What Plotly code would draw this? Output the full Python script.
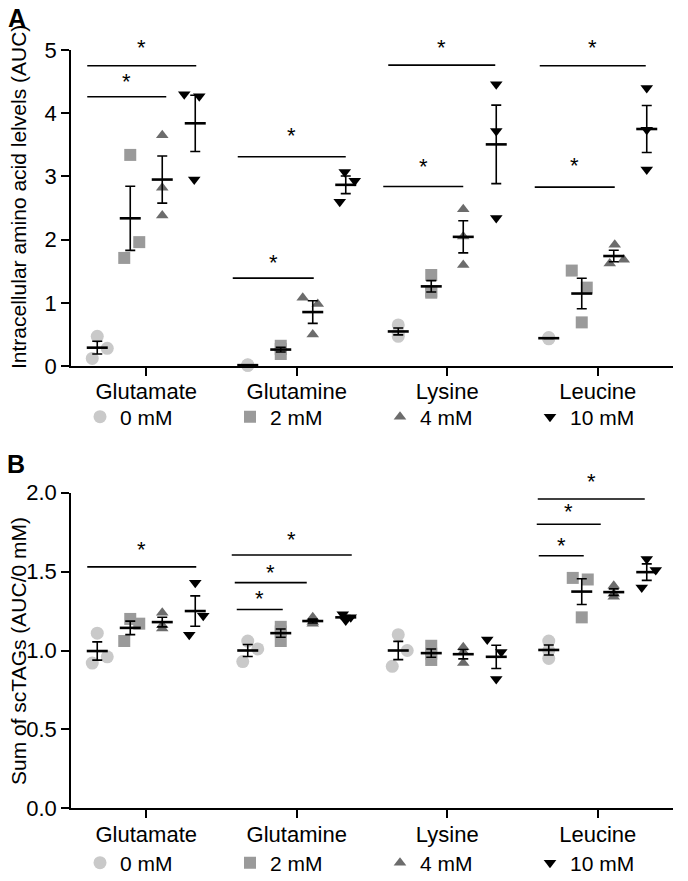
import numpy as np
import plotly.graph_objects as go

# ---------------- data ----------------
CATEGORIES = ["Glutamate", "Glutamine", "Lysine", "Leucine"]
DOSES = ["0 mM", "2 mM", "4 mM", "10 mM"]

# Panel A: intracellular amino acid levels (AUC); one list of 3 replicates per category
A_0MM = [[0.47, 0.12, 0.28], [0.02, 0.01, 0.01], [0.65, 0.47, 0.52], [0.45, 0.44, 0.43]]
A_2MM = [[3.34, 1.96, 1.71], [0.32, 0.27, 0.19], [1.44, 1.18, 1.16], [1.51, 1.24, 0.69]]
A_4MM = [[3.65, 2.82, 2.38], [1.08, 0.98, 0.50], [2.48, 2.05, 1.60], [1.92, 1.62, 1.68]]
A_10MM = [[4.30, 4.27, 2.95], [3.07, 2.93, 2.60], [4.46, 3.72, 2.34], [4.40, 3.74, 3.11]]

# Panel B: sum of scTAGs (AUC / 0 mM)
B_0MM = [[1.11, 0.92, 0.96], [1.06, 1.01, 0.93], [1.10, 1.00, 0.90], [1.06, 1.00, 0.95]]
B_2MM = [[1.20, 1.17, 1.06], [1.15, 1.12, 1.06], [1.03, 0.98, 0.94], [1.46, 1.45, 1.21]]
B_4MM = [[1.24, 1.16, 1.14], [1.21, 1.17, 1.18], [1.02, 0.99, 0.92], [1.41, 1.36, 1.34]]
B_10MM = [[1.43, 1.22, 1.10], [1.23, 1.21, 1.19], [1.07, 0.99, 0.82], [1.58, 1.51, 1.40]]

A_TICKS = [0, 1, 2, 3, 4, 5]
B_TICKS = [0.0, 0.5, 1.0, 1.5, 2.0]

# significance bars: (category, from dose, to dose, bar level)
SIG_A = [(0, 0, 3, 4.75), (0, 0, 2, 4.26), (1, 0, 3, 3.31), (1, 0, 2, 1.39),
         (2, 0, 3, 4.76), (2, 0, 2, 2.84), (3, 0, 3, 4.75), (3, 0, 2, 2.83)]
SIG_B = [(0, 0, 3, 1.53), (1, 0, 3, 1.605), (1, 0, 2, 1.43), (1, 0, 1, 1.26),
         (3, 0, 3, 1.96), (3, 0, 2, 1.80), (3, 0, 1, 1.60)]

# ---------------- style ----------------
W, H = 688, 881
ML, MR = 71, 15
PLOT_W = W - ML - MR
PX_PER_UNIT = PLOT_W / 4.0
GROUP_PX = [-49, -16, 16, 49]
SYMBOLS = ["circle", "square", "triangle-up", "triangle-down"]
COLORS = ["#c9c9c9", "#9a9a9a", "#6c6c6c", "#000000"]
SIZES = [13, 12, 11, 11]
FONT = "Liberation Sans, Arial, Helvetica, sans-serif"
FS = 21
FS_TICK = 22

# per-point horizontal spread (px) to avoid overlap, like the original scatter
JIT_A = {
    0: [[0, -5, 10], [0, 9, -6], [0, 0, 0], [-11, 4, -1]],
    1: [[0, 0, 0], [0, 0, 0], [-10, 5, 0], [-1, 9, -6]],
    2: [[0, 0, 0], [0, 0, 0], [0, 0, 0], [0, 0, 0]],
    3: [[0, 0, 0], [-10, 5, 0], [1, -4, 10], [0, 0, 0]],
}
JIT_B = {
    0: [[0, -5, 10], [0, 9, -6], [0, 0, 0], [0, 8, -6]],
    1: [[0, 10, -5], [0, 0, 0], [0, 0, 0], [-3, 5, 0]],
    2: [[0, 9, -6], [0, 0, 0], [0, 0, 0], [-9, 5, 0]],
    3: [[0, 0, 0], [-9, 6, 0], [0, 0, 0], [0, 9, -5]],
}
# sig bar style tweaks: (left extension px, right adjust px, star gap px)
SIG_A_STYLE = [(-10, 1, 20), (-10, 4, 17), (-10, 0, 23), (-15, 1, 18),
               (-10, -1, 20), (-15, 0, 22), (-9, -1, 20), (-14, 1, 24)]
SIG_B_STYLE = [(-10, 1, 19), (-16, 6, 18), (-13, -6, 12), (-11, 2, 13),
               (-11, -2, 20), (-12, -13, 15), (-10, 2, 12)]

# panel vertical placement (px from top)
A_TOP, A_BOT = 50, 366
B_TOP, B_BOT = 492.7, 808.3


def py(p):
    return 1 - p / H


def px(p):
    return (p - ML) / PLOT_W


fig = go.Figure()


def add_panel(series, jit, xa, ya, legend_name):
    for g, vals in enumerate(series):
        xs, ys = [], []
        for c, reps in enumerate(vals):
            for k, v in enumerate(reps):
                xs.append(c + (GROUP_PX[g] + jit[c][g][k]) / PX_PER_UNIT)
                ys.append(v)
        fig.add_trace(go.Scatter(
            x=xs, y=ys, mode="markers", name=DOSES[g], xaxis=xa, yaxis=ya,
            legend=legend_name, cliponaxis=False,
            legendwidth=70 if g == 3 else None,
            marker=dict(symbol=SYMBOLS[g], color=COLORS[g], size=SIZES[g],
                        line=dict(width=0)),
            hoverinfo="skip"))
    for g, vals in enumerate(series):
        arr = np.array(vals, dtype=float)
        means = arr.mean(axis=1)
        sems = arr.std(axis=1, ddof=1) / np.sqrt(arr.shape[1])
        mx = [c + GROUP_PX[g] / PX_PER_UNIT for c in range(len(vals))]
        fig.add_trace(go.Scatter(
            x=mx, y=means, mode="markers", xaxis=xa, yaxis=ya, showlegend=False,
            cliponaxis=False,
            marker=dict(symbol="line-ew", size=15, color="black",
                        line=dict(width=2.6, color="black")),
            error_y=dict(type="data", array=sems, visible=True, color="black",
                         thickness=1.6, width=5),
            hoverinfo="skip"))


add_panel([A_0MM, A_2MM, A_4MM, A_10MM], JIT_A, "x", "y", "legend")
add_panel([B_0MM, B_2MM, B_4MM, B_10MM], JIT_B, "x2", "y2", "legend2")

shapes, annots = [], []


def add_sigs(sigs, styles, xref, yref):
    for (c, g0, g1, lvl), (l_px, r_px, gap) in zip(sigs, styles):
        x0 = c + (GROUP_PX[g0] + l_px) / PX_PER_UNIT
        x1 = c + (GROUP_PX[g1] + r_px) / PX_PER_UNIT
        shapes.append(dict(type="line", xref=xref, yref=yref, x0=x0, x1=x1,
                           y0=lvl, y1=lvl, line=dict(color="black", width=1.6)))
        annots.append(dict(x=(x0 + x1) / 2, y=lvl, xref=xref, yref=yref,
                           text="*", showarrow=False, xanchor="center",
                           yanchor="middle", yshift=gap - 2,
                           font=dict(family=FONT, size=FS_TICK, color="black")))


add_sigs(SIG_A, SIG_A_STYLE, "x", "y")
add_sigs(SIG_B, SIG_B_STYLE, "x2", "y2")

# panel letters and axis titles
common_ann = dict(xref="paper", yref="paper", showarrow=False,
                  xanchor="center", yanchor="middle")
annots += [
    dict(common_ann, text="<b>A</b>", x=px(17), y=py(18),
         font=dict(family=FONT, size=25, color="black")),
    dict(common_ann, text="<b>B</b>", x=px(16), y=py(464),
         font=dict(family=FONT, size=25, color="black")),
    dict(common_ann, text="Intracellular amino acid lelvels (AUC)", textangle=-90,
         x=px(18), y=py(197), font=dict(family=FONT, size=FS, color="black")),
    dict(common_ann, text="Sum of scTAGs (AUC/0 mM)", textangle=-90,
         x=px(18), y=py(651), font=dict(family=FONT, size=FS, color="black")),
]

axis_common = dict(showline=True, linecolor="black", linewidth=1.6,
                   ticks="outside", ticklen=8, tickwidth=1.6, tickcolor="black",
                   showgrid=False, zeroline=False, automargin=False,
                   tickfont=dict(family=FONT, size=FS_TICK, color="black"))

xcommon = dict(axis_common, range=[-0.5, 3.5], tickvals=list(range(len(CATEGORIES))),
               ticktext=CATEGORIES, domain=[0, 1], ticklabelstandoff=-3)

leg_common = dict(orientation="h", xanchor="left", yanchor="middle",
                  entrywidth=105, entrywidthmode="pixels",
                  font=dict(family=FONT, size=FS, color="black"),
                  bgcolor="rgba(0,0,0,0)", itemclick=False, itemdoubleclick=False,
                  tracegroupgap=0)

fig.update_layout(
    width=W, height=H, margin=dict(l=ML, r=MR, t=0, b=0, autoexpand=False),
    paper_bgcolor="white", plot_bgcolor="white",
    font=dict(family=FONT, size=FS, color="black"),
    xaxis=dict(xcommon, anchor="y"),
    yaxis=dict(axis_common, range=[0, 5], tickvals=A_TICKS, anchor="x",
               domain=[py(A_BOT), py(A_TOP)]),
    xaxis2=dict(xcommon, anchor="y2"),
    yaxis2=dict(axis_common, range=[0, 2], tickvals=B_TICKS, tickformat=".1f",
                anchor="x2", domain=[py(B_BOT), py(B_TOP)]),
    legend=dict(leg_common, x=px(80), y=py(417)),
    legend2=dict(leg_common, x=px(80), y=py(863)),
    shapes=shapes, annotations=annots, showlegend=True,
)

fig.write_html("out.html", config={"displayModeBar": False},
               post_script="document.body.style.margin='0px';document.body.style.overflow='hidden';")
